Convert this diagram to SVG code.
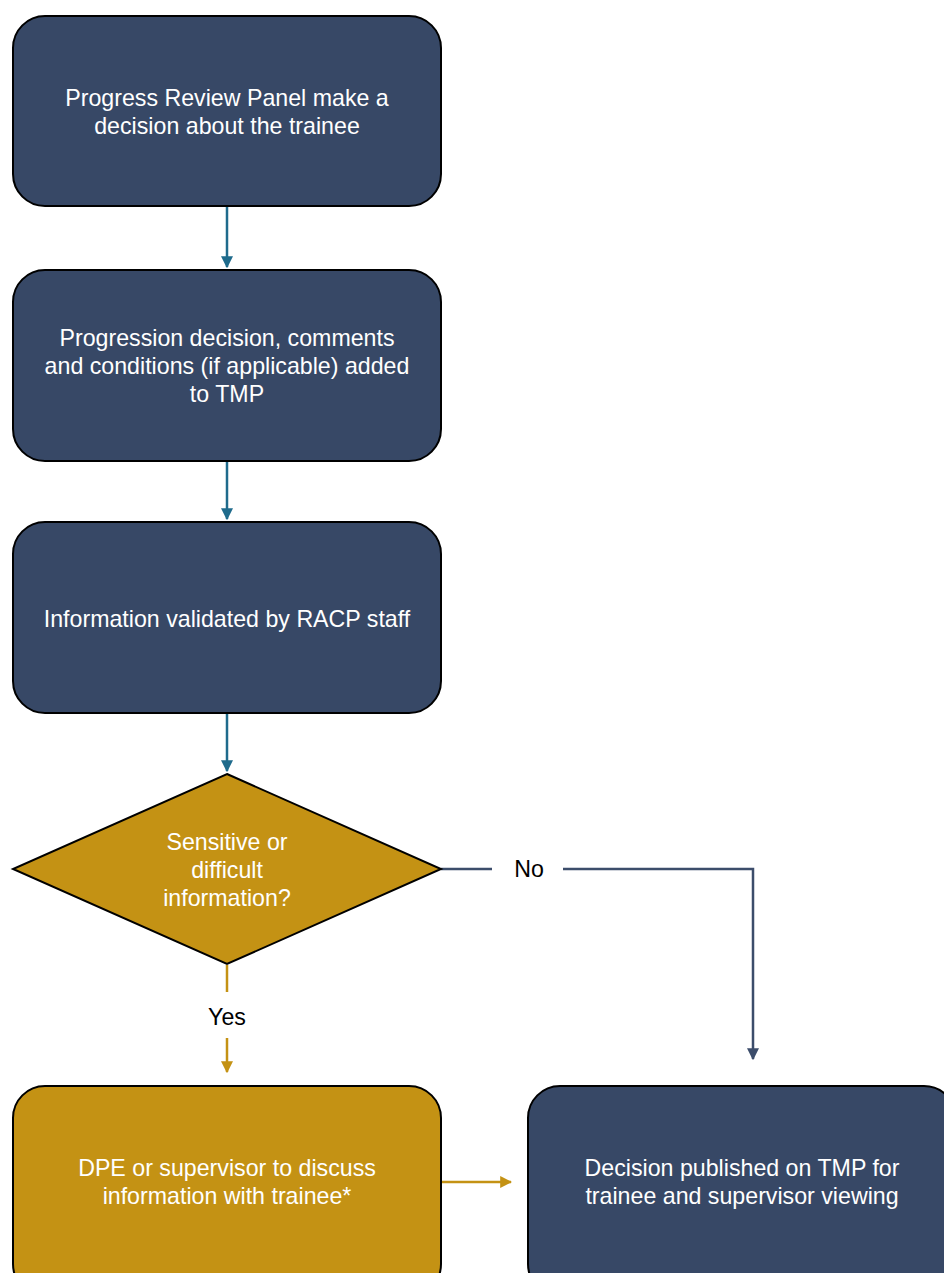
<svg xmlns="http://www.w3.org/2000/svg" width="944" height="1273" viewBox="0 0 944 1273">
<style>
.navy{fill:#374866;stroke:#000;stroke-width:2}
.gold{fill:#c49214;stroke:#000;stroke-width:2}
.t{font-family:"Liberation Sans",Arial,sans-serif;font-size:23.2px;fill:#fff;text-anchor:middle}
.lab{font-family:"Liberation Sans",Arial,sans-serif;font-size:23.2px;fill:#000;text-anchor:middle}
.teal{stroke:#1f6b8c;stroke-width:2.5;fill:none}
.yl{stroke:#c49214;stroke-width:2.5;fill:none}
.nv{stroke:#3c4d6b;stroke-width:2.5;fill:none}
</style>
<defs>
<marker id="aT" viewBox="0 0 10 10" refX="9" refY="5" markerWidth="12" markerHeight="12" markerUnits="userSpaceOnUse" orient="auto"><path d="M0,0L10,5L0,10z" fill="#1f6b8c"/></marker>
<marker id="aY" viewBox="0 0 10 10" refX="9" refY="5" markerWidth="12" markerHeight="12" markerUnits="userSpaceOnUse" orient="auto"><path d="M0,0L10,5L0,10z" fill="#c49214"/></marker>
<marker id="aN" viewBox="0 0 10 10" refX="9" refY="5" markerWidth="12" markerHeight="12" markerUnits="userSpaceOnUse" orient="auto"><path d="M0,0L10,5L0,10z" fill="#3c4d6b"/></marker>
</defs>
<rect width="944" height="1273" fill="#fff"/>
<g id="connectors">
<path class="teal" d="M227,207V267" marker-end="url(#aT)"/>
<path class="teal" d="M227,462V519" marker-end="url(#aT)"/>
<path class="teal" d="M227,714V771" marker-end="url(#aT)"/>
<path class="yl" d="M227,965V992"/>
<path class="yl" d="M227,1038V1072" marker-end="url(#aY)"/>
<path class="nv" d="M441,869H492"/>
<path class="nv" d="M563,869H753V1059" marker-end="url(#aN)"/>
<path class="yl" d="M442,1182H511" marker-end="url(#aY)"/>
<text class="lab" x="529" y="877">No</text>
<text class="lab" x="227" y="1025">Yes</text>
</g>
<g id="n1">
<rect class="navy" x="13" y="16" width="428" height="190" rx="32"/>
<text class="t" x="227" y="106">Progress Review Panel make a</text>
<text class="t" x="227" y="134">decision about the trainee</text>
</g>
<g id="n2">
<rect class="navy" x="13" y="270" width="428" height="191" rx="32"/>
<text class="t" x="227" y="346">Progression decision, comments</text>
<text class="t" x="227" y="374">and conditions (if applicable) added</text>
<text class="t" x="227" y="402">to TMP</text>
</g>
<g id="n3">
<rect class="navy" x="13" y="522" width="428" height="191" rx="32"/>
<text class="t" x="227" y="627">Information validated by RACP staff</text>
</g>
<g id="n4">
<polygon class="gold" points="227,774 441,869 227,964 13,869"/>
<text class="t" x="227" y="850">Sensitive or</text>
<text class="t" x="227" y="878">difficult</text>
<text class="t" x="227" y="906">information?</text>
</g>
<g id="n5">
<rect class="gold" x="13" y="1086" width="428" height="210" rx="32"/>
<text class="t" x="227" y="1176">DPE or supervisor to discuss</text>
<text class="t" x="227" y="1204">information with trainee*</text>
</g>
<g id="n6">
<rect class="navy" x="528" y="1086" width="428" height="210" rx="32"/>
<text class="t" x="742" y="1176">Decision published on TMP for</text>
<text class="t" x="742" y="1204">trainee and supervisor viewing</text>
</g>
</svg>
